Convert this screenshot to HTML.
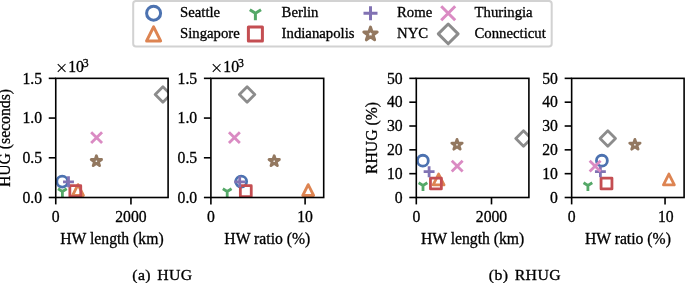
<!DOCTYPE html>
<html><head><meta charset="utf-8"><title>figure</title>
<style>html,body{margin:0;padding:0;background:#fff}svg{display:block}</style></head>
<body>
<svg width="685" height="283" viewBox="0 0 685 283" font-family='"Liberation Serif", "DejaVu Serif", serif' fill="#000" stroke="#000" stroke-width="0.3">
<rect width="685" height="283" fill="#fff" stroke="none"/>
<clipPath id="c0"><rect x="55.75" y="78.35" width="112.35" height="119.15"/></clipPath>
<g clip-path="url(#c0)">
<circle cx="62.25" cy="181.60" r="5.45" fill="none" stroke="#4C72B0" stroke-width="2.8"/>
<path d="M78.00 184.60L83.45 195.50L72.55 195.50Z" fill="none" stroke="#DD8452" stroke-width="2.8" stroke-linejoin="round"/>
<path d="M62.40 191.50L62.40 196.95M62.40 191.50L66.76 188.78M62.40 191.50L58.04 188.78" fill="none" stroke="#55A868" stroke-width="2.8"/>
<rect x="69.85" y="185.65" width="10.90" height="10.90" fill="none" stroke="#C44E52" stroke-width="2.8" stroke-linejoin="round"/>
<path d="M63.05 181.80H73.95M68.50 176.35V187.25" fill="none" stroke="#8172B3" stroke-width="2.8"/>
<path d="M96.40 155.75L97.62 159.52L101.58 159.52L98.38 161.84L99.60 165.61L96.40 163.28L93.20 165.61L94.42 161.84L91.22 159.52L95.18 159.52Z" fill="none" stroke="#937860" stroke-width="2.8" stroke-linejoin="round"/>
<path d="M91.15 132.15L102.05 143.05M91.15 143.05L102.05 132.15" fill="none" stroke="#DA8BC3" stroke-width="2.8"/>
<path d="M162.90 86.79L170.61 94.50L162.90 102.21L155.19 94.50Z" fill="none" stroke="#8C8C8C" stroke-width="2.8" stroke-linejoin="round"/>
</g>
<path d="M55.75 197.5V204.4" stroke-width="1.6"/>
<text x="55.75" y="222.10" font-size="15.7" text-anchor="middle" >0</text>
<path d="M130.95 197.5V204.4" stroke-width="1.6"/>
<text x="130.95" y="222.10" font-size="15.7" text-anchor="middle" >2000</text>
<path d="M55.75 197.50H48.75" stroke-width="1.6"/>
<text x="42.05" y="202.70" font-size="15.7" text-anchor="end" >0.0</text>
<path d="M55.75 157.78H48.75" stroke-width="1.6"/>
<text x="42.05" y="162.98" font-size="15.7" text-anchor="end" >0.5</text>
<path d="M55.75 118.07H48.75" stroke-width="1.6"/>
<text x="42.05" y="123.27" font-size="15.7" text-anchor="end" >1.0</text>
<path d="M55.75 78.35H48.75" stroke-width="1.6"/>
<text x="42.05" y="83.55" font-size="15.7" text-anchor="end" >1.5</text>
<rect x="55.75" y="78.35" width="112.35" height="119.15" fill="none" stroke-width="1.6"/>
<text x="111.92" y="243.80" font-size="15.7" text-anchor="middle" >HW length (km)</text>
<text transform="translate(10.45 138.03) rotate(-90)" font-size="15.7" text-anchor="middle">HUG (seconds)</text>
<text x="56.05" y="72.35" font-size="15.7"><tspan font-size="20.8" dy="3.0" dx="-0.4" stroke="none">×</tspan><tspan dy="-3.0" dx="0.8">10</tspan><tspan dy="-5.8" dx="-1.0" font-size="11.8">3</tspan></text>
<clipPath id="c1"><rect x="210.9" y="78.35" width="112.80" height="119.15"/></clipPath>
<g clip-path="url(#c1)">
<circle cx="241.20" cy="181.60" r="5.45" fill="none" stroke="#4C72B0" stroke-width="2.8"/>
<path d="M308.20 184.60L313.65 195.50L302.75 195.50Z" fill="none" stroke="#DD8452" stroke-width="2.8" stroke-linejoin="round"/>
<path d="M227.20 191.50L227.20 196.95M227.20 191.50L231.56 188.78M227.20 191.50L222.84 188.78" fill="none" stroke="#55A868" stroke-width="2.8"/>
<rect x="240.35" y="185.65" width="10.90" height="10.90" fill="none" stroke="#C44E52" stroke-width="2.8" stroke-linejoin="round"/>
<path d="M234.25 181.80H245.15M239.70 176.35V187.25" fill="none" stroke="#8172B3" stroke-width="2.8"/>
<path d="M274.20 155.75L275.42 159.52L279.38 159.52L276.18 161.84L277.40 165.61L274.20 163.28L271.00 165.61L272.22 161.84L269.02 159.52L272.98 159.52Z" fill="none" stroke="#937860" stroke-width="2.8" stroke-linejoin="round"/>
<path d="M228.95 132.15L239.85 143.05M228.95 143.05L239.85 132.15" fill="none" stroke="#DA8BC3" stroke-width="2.8"/>
<path d="M247.10 86.79L254.81 94.50L247.10 102.21L239.39 94.50Z" fill="none" stroke="#8C8C8C" stroke-width="2.8" stroke-linejoin="round"/>
</g>
<path d="M210.90 197.5V204.4" stroke-width="1.6"/>
<text x="210.90" y="222.10" font-size="15.7" text-anchor="middle" >0</text>
<path d="M305.10 197.5V204.4" stroke-width="1.6"/>
<text x="305.10" y="222.10" font-size="15.7" text-anchor="middle" >10</text>
<path d="M210.9 197.50H203.9" stroke-width="1.6"/>
<text x="197.20" y="202.70" font-size="15.7" text-anchor="end" >0.0</text>
<path d="M210.9 157.78H203.9" stroke-width="1.6"/>
<text x="197.20" y="162.98" font-size="15.7" text-anchor="end" >0.5</text>
<path d="M210.9 118.07H203.9" stroke-width="1.6"/>
<text x="197.20" y="123.27" font-size="15.7" text-anchor="end" >1.0</text>
<path d="M210.9 78.35H203.9" stroke-width="1.6"/>
<text x="197.20" y="83.55" font-size="15.7" text-anchor="end" >1.5</text>
<rect x="210.9" y="78.35" width="112.80" height="119.15" fill="none" stroke-width="1.6"/>
<text x="267.30" y="243.80" font-size="15.7" text-anchor="middle" >HW ratio (%)</text>
<text x="211.20" y="72.35" font-size="15.7"><tspan font-size="20.8" dy="3.0" dx="-0.4" stroke="none">×</tspan><tspan dy="-3.0" dx="0.8">10</tspan><tspan dy="-5.8" dx="-1.0" font-size="11.8">3</tspan></text>
<clipPath id="c2"><rect x="416.3" y="78.35" width="112.60" height="119.15"/></clipPath>
<g clip-path="url(#c2)">
<circle cx="422.85" cy="160.70" r="5.45" fill="none" stroke="#4C72B0" stroke-width="2.8"/>
<path d="M438.60 174.05L444.05 184.95L433.15 184.95Z" fill="none" stroke="#DD8452" stroke-width="2.8" stroke-linejoin="round"/>
<path d="M423.00 185.50L423.00 190.95M423.00 185.50L427.36 182.78M423.00 185.50L418.64 182.78" fill="none" stroke="#55A868" stroke-width="2.8"/>
<rect x="430.45" y="178.05" width="10.90" height="10.90" fill="none" stroke="#C44E52" stroke-width="2.8" stroke-linejoin="round"/>
<path d="M423.65 171.70H434.55M429.10 166.25V177.15" fill="none" stroke="#8172B3" stroke-width="2.8"/>
<path d="M457.00 139.35L458.22 143.12L462.18 143.12L458.98 145.44L460.20 149.21L457.00 146.88L453.80 149.21L455.02 145.44L451.82 143.12L455.78 143.12Z" fill="none" stroke="#937860" stroke-width="2.8" stroke-linejoin="round"/>
<path d="M451.75 160.65L462.65 171.55M451.75 171.55L462.65 160.65" fill="none" stroke="#DA8BC3" stroke-width="2.8"/>
<path d="M523.50 130.79L531.21 138.50L523.50 146.21L515.79 138.50Z" fill="none" stroke="#8C8C8C" stroke-width="2.8" stroke-linejoin="round"/>
</g>
<path d="M416.30 197.5V204.4" stroke-width="1.6"/>
<text x="416.30" y="222.10" font-size="15.7" text-anchor="middle" >0</text>
<path d="M491.50 197.5V204.4" stroke-width="1.6"/>
<text x="491.50" y="222.10" font-size="15.7" text-anchor="middle" >2000</text>
<path d="M416.3 197.50H409.3" stroke-width="1.6"/>
<text x="402.60" y="202.70" font-size="15.7" text-anchor="end" >0</text>
<path d="M416.3 173.67H409.3" stroke-width="1.6"/>
<text x="402.60" y="178.87" font-size="15.7" text-anchor="end" >10</text>
<path d="M416.3 149.84H409.3" stroke-width="1.6"/>
<text x="402.60" y="155.04" font-size="15.7" text-anchor="end" >20</text>
<path d="M416.3 126.01H409.3" stroke-width="1.6"/>
<text x="402.60" y="131.21" font-size="15.7" text-anchor="end" >30</text>
<path d="M416.3 102.18H409.3" stroke-width="1.6"/>
<text x="402.60" y="107.38" font-size="15.7" text-anchor="end" >40</text>
<path d="M416.3 78.35H409.3" stroke-width="1.6"/>
<text x="402.60" y="83.55" font-size="15.7" text-anchor="end" >50</text>
<rect x="416.3" y="78.35" width="112.60" height="119.15" fill="none" stroke-width="1.6"/>
<text x="472.60" y="243.80" font-size="15.7" text-anchor="middle" >HW length (km)</text>
<text transform="translate(376.90 138.03) rotate(-90)" font-size="15.7" text-anchor="middle">RHUG (%)</text>
<clipPath id="c3"><rect x="571.65" y="78.35" width="112.45" height="119.15"/></clipPath>
<g clip-path="url(#c3)">
<circle cx="601.90" cy="160.70" r="5.45" fill="none" stroke="#4C72B0" stroke-width="2.8"/>
<path d="M668.90 174.05L674.35 184.95L663.45 184.95Z" fill="none" stroke="#DD8452" stroke-width="2.8" stroke-linejoin="round"/>
<path d="M587.90 185.50L587.90 190.95M587.90 185.50L592.26 182.78M587.90 185.50L583.54 182.78" fill="none" stroke="#55A868" stroke-width="2.8"/>
<rect x="601.05" y="178.05" width="10.90" height="10.90" fill="none" stroke="#C44E52" stroke-width="2.8" stroke-linejoin="round"/>
<path d="M594.95 171.70H605.85M600.40 166.25V177.15" fill="none" stroke="#8172B3" stroke-width="2.8"/>
<path d="M634.90 139.35L636.12 143.12L640.08 143.12L636.88 145.44L638.10 149.21L634.90 146.88L631.70 149.21L632.92 145.44L629.72 143.12L633.68 143.12Z" fill="none" stroke="#937860" stroke-width="2.8" stroke-linejoin="round"/>
<path d="M589.65 160.65L600.55 171.55M589.65 171.55L600.55 160.65" fill="none" stroke="#DA8BC3" stroke-width="2.8"/>
<path d="M607.80 130.79L615.51 138.50L607.80 146.21L600.09 138.50Z" fill="none" stroke="#8C8C8C" stroke-width="2.8" stroke-linejoin="round"/>
</g>
<path d="M571.65 197.5V204.4" stroke-width="1.6"/>
<text x="571.65" y="222.10" font-size="15.7" text-anchor="middle" >0</text>
<path d="M665.05 197.5V204.4" stroke-width="1.6"/>
<text x="665.75" y="222.10" font-size="15.7" text-anchor="middle" >10</text>
<path d="M571.65 197.50H564.65" stroke-width="1.6"/>
<text x="557.95" y="202.70" font-size="15.7" text-anchor="end" >0</text>
<path d="M571.65 173.67H564.65" stroke-width="1.6"/>
<text x="557.95" y="178.87" font-size="15.7" text-anchor="end" >10</text>
<path d="M571.65 149.84H564.65" stroke-width="1.6"/>
<text x="557.95" y="155.04" font-size="15.7" text-anchor="end" >20</text>
<path d="M571.65 126.01H564.65" stroke-width="1.6"/>
<text x="557.95" y="131.21" font-size="15.7" text-anchor="end" >30</text>
<path d="M571.65 102.18H564.65" stroke-width="1.6"/>
<text x="557.95" y="107.38" font-size="15.7" text-anchor="end" >40</text>
<path d="M571.65 78.35H564.65" stroke-width="1.6"/>
<text x="557.95" y="83.55" font-size="15.7" text-anchor="end" >50</text>
<rect x="571.65" y="78.35" width="112.45" height="119.15" fill="none" stroke-width="1.6"/>
<text x="627.88" y="243.80" font-size="15.7" text-anchor="middle" >HW ratio (%)</text>
<rect x="133.2" y="0.95" width="418.5" height="45.6" rx="2.8" fill="#fff" stroke="#d2d2d2" stroke-width="2"/>
<circle cx="153.60" cy="13.20" r="7.00" fill="none" stroke="#4C72B0" stroke-width="3.0"/>
<text x="180.00" y="17.40" font-size="14.75" text-anchor="start" >Seattle</text>
<path d="M153.60 26.90L160.60 40.90L146.60 40.90Z" fill="none" stroke="#DD8452" stroke-width="3.0" stroke-linejoin="round"/>
<text x="180.00" y="38.10" font-size="14.75" text-anchor="start" >Singapore</text>
<path d="M255.40 13.20L255.40 20.20M255.40 13.20L261.00 9.70M255.40 13.20L249.80 9.70" fill="none" stroke="#55A868" stroke-width="3.0"/>
<text x="281.60" y="17.40" font-size="14.75" text-anchor="start" >Berlin</text>
<rect x="248.40" y="26.90" width="14.00" height="14.00" fill="none" stroke="#C44E52" stroke-width="3.0" stroke-linejoin="round"/>
<text x="281.60" y="38.10" font-size="14.75" text-anchor="start" >Indianapolis</text>
<path d="M363.50 13.20H377.50M370.50 6.20V20.20" fill="none" stroke="#8172B3" stroke-width="3.0"/>
<text x="397.00" y="17.40" font-size="14.75" text-anchor="start" >Rome</text>
<path d="M370.50 27.15L372.07 31.99L377.16 31.99L373.04 34.98L374.61 39.81L370.50 36.82L366.39 39.81L367.96 34.98L363.84 31.99L368.93 31.99Z" fill="none" stroke="#937860" stroke-width="3.0" stroke-linejoin="round"/>
<text x="397.00" y="38.35" font-size="14.75" text-anchor="start" >NYC</text>
<path d="M441.20 6.20L455.20 20.20M441.20 20.20L455.20 6.20" fill="none" stroke="#DA8BC3" stroke-width="3.0"/>
<text x="474.50" y="17.40" font-size="14.75" text-anchor="start" >Thuringia</text>
<path d="M448.20 24.00L458.10 33.90L448.20 43.80L438.30 33.90Z" fill="none" stroke="#8C8C8C" stroke-width="3.0" stroke-linejoin="round"/>
<text x="474.50" y="38.10" font-size="14.75" text-anchor="start" >Connecticut</text>
<text transform="translate(132.2 279.9) scale(1.09 1)" font-size="14.5" letter-spacing="0.4" word-spacing="1.6">(a) HUG</text>
<text transform="translate(488.8 279.9) scale(1.09 1)" font-size="14.5" letter-spacing="0.4" word-spacing="1.6">(b) RHUG</text>
</svg>
</body></html>
